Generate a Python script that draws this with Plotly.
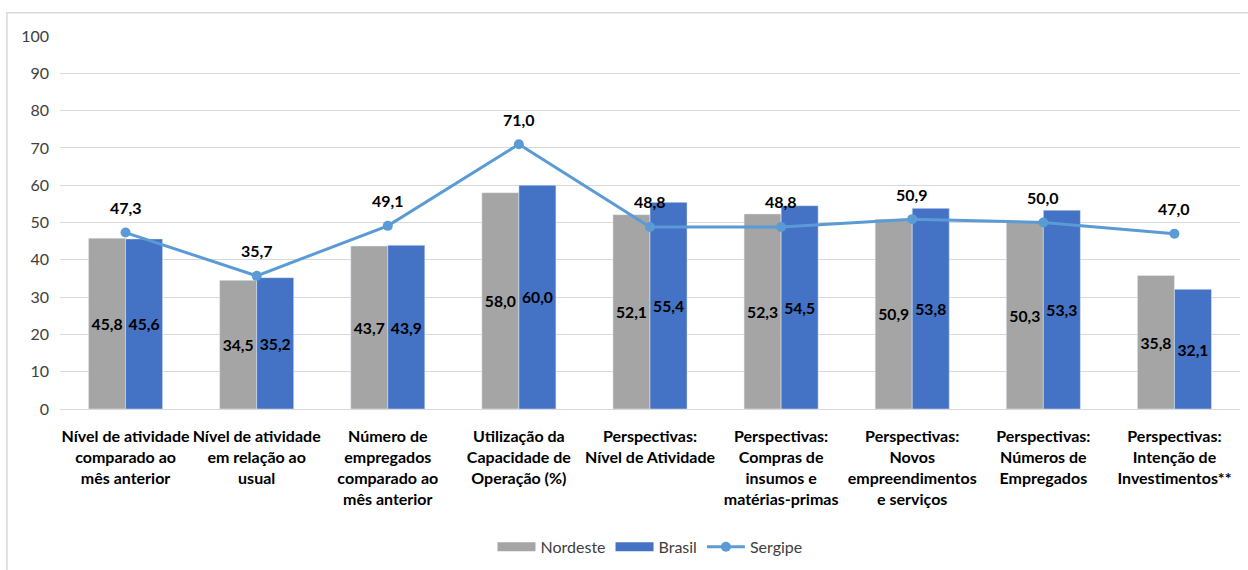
import plotly.graph_objects as go

categories = [
    "Nível de atividade<br>comparado ao<br>mês anterior",
    "Nível de atividade<br>em relação ao<br>usual",
    "Número de<br>empregados<br>comparado ao<br>mês anterior",
    "Utilização da<br>Capacidade de<br>Operação (%)",
    "Perspectivas:<br>Nível de Atividade",
    "Perspectivas:<br>Compras de<br>insumos e<br>matérias-primas",
    "Perspectivas:<br>Novos<br>empreendimentos<br>e serviços",
    "Perspectivas:<br>Números de<br>Empregados",
    "Perspectivas:<br>Intenção de<br>Investimentos**",
]
nordeste = [45.8, 34.5, 43.7, 58.0, 52.1, 52.3, 50.9, 50.3, 35.8]
brasil = [45.6, 35.2, 43.9, 60.0, 55.4, 54.5, 53.8, 53.3, 32.1]
sergipe = [47.3, 35.7, 49.1, 71.0, 48.8, 48.8, 50.9, 50.0, 47.0]
y_ticks = [0, 10, 20, 30, 40, 50, 60, 70, 80, 90, 100]

GRAY = "#A5A5A5"
BLUE = "#4472C4"
LINE = "#5B9BD5"

def fmt(v):
    return f"{v:.1f}".replace(".", ",")

FONT = "Lato, Carlito, 'DejaVu Sans', sans-serif"
lbl_font = dict(family=FONT, size=16, color="black", weight="bold")

fig = go.Figure()
fig.add_trace(go.Bar(
    name="Nordeste", x=categories, y=nordeste, marker_color=GRAY,
    text=[fmt(v) for v in nordeste], textposition="inside",
    insidetextanchor="middle", textangle=0, textfont=lbl_font,
    showlegend=False,
))
fig.add_trace(go.Bar(
    name="Brasil", x=categories, y=brasil, marker_color=BLUE,
    text=[fmt(v) for v in brasil], textposition="inside",
    insidetextanchor="middle", textangle=0, textfont=lbl_font,
    showlegend=False,
))
fig.add_trace(go.Scatter(
    name="Sergipe", x=categories, y=sergipe, mode="lines+markers",
    line=dict(color=LINE, width=3), marker=dict(size=10, color=LINE),
    showlegend=False,
))
# legend entries (wide rectangle swatches like the original)
for nm, col in [("Nordeste", GRAY), ("Brasil", BLUE)]:
    fig.add_trace(go.Scatter(name=nm, x=[None], y=[None], mode="lines",
                             line=dict(color=col, width=9)))
fig.add_trace(go.Scatter(name="Sergipe", x=[None], y=[None], mode="lines+markers",
                         line=dict(color=LINE, width=3),
                         marker=dict(size=10, color=LINE)))

for c, v in zip(categories, sergipe):
    fig.add_annotation(x=c, y=v, text=fmt(v), showarrow=False, yshift=25,
                       font=lbl_font)

fig.add_shape(type="rect", xref="paper", yref="paper",
              x0=-0.045, x1=1.02, y0=-0.5, y1=1.062,
              line=dict(color="#D9D9D9", width=1.5), layer="below")

fig.update_layout(
    width=1248, height=570,
    margin=dict(l=60, r=8, t=36, b=160),
    paper_bgcolor="white", plot_bgcolor="white",
    barmode="group", bargap=0.435, bargroupgap=0,
    font=dict(family=FONT, color="#404040"),
    showlegend=True,
    legend=dict(orientation="h", x=0.5, xanchor="center", y=-0.366,
                yanchor="middle", font=dict(size=16, color="#404040"),
                traceorder="normal", itemwidth=38, tracegroupgap=0),
    uniformtext=dict(minsize=13, mode="show"),
)
fig.update_yaxes(range=[0, 100], tickvals=y_ticks, showgrid=True,
                 gridcolor="#D9D9D9", gridwidth=1, zeroline=False,
                 tickfont=dict(size=16, color="#404040", family=FONT),
                 ticks="", ticklabelstandoff=10, showline=False)
fig.update_xaxes(tickfont=dict(size=16, color="black", family=FONT, weight="bold"),
                 tickangle=0, showline=True, linecolor="#D9D9D9", linewidth=1,
                 ticks="", ticklabelstandoff=13)

fig.write_html("out.html")
